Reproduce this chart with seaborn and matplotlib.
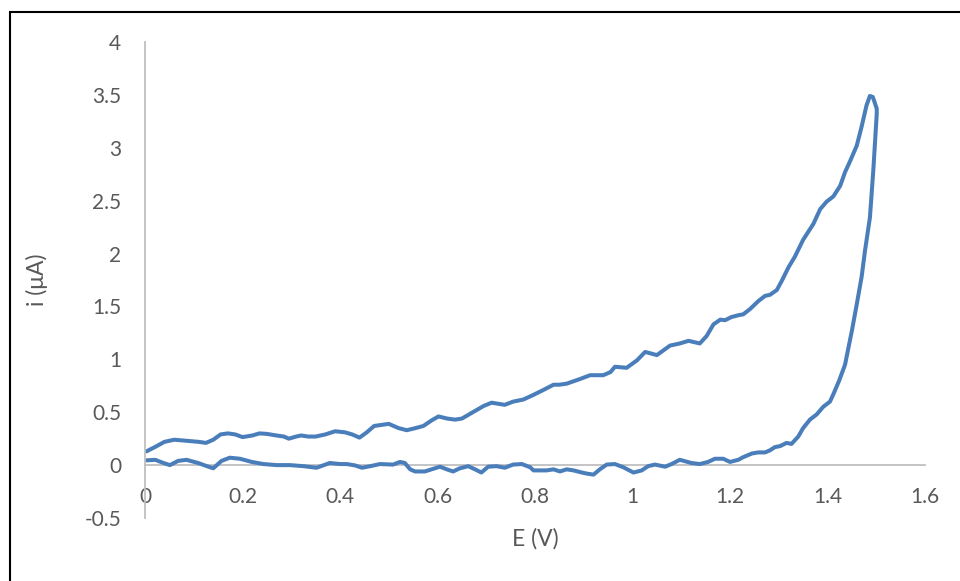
import numpy as np
import pandas as pd
import matplotlib
matplotlib.use("Agg")
import matplotlib.pyplot as plt
import seaborn as sns
from matplotlib.patches import Rectangle

# Anodic (forward) sweep: potential in V, current in µA
E_fwd = [0.003, 0.02, 0.04, 0.06, 0.085, 0.11, 0.125, 0.14, 0.155, 0.17, 0.185, 0.20,
         0.22, 0.235, 0.25, 0.27, 0.285, 0.295, 0.31, 0.32, 0.335, 0.35, 0.37, 0.39,
         0.41, 0.425, 0.44, 0.455, 0.47, 0.485, 0.50, 0.52, 0.537, 0.555, 0.571, 0.587,
         0.602, 0.62, 0.636, 0.65, 0.665, 0.68, 0.695, 0.711, 0.725, 0.738, 0.755, 0.776,
         0.795, 0.817, 0.838, 0.85, 0.865, 0.89, 0.913, 0.94, 0.955, 0.964, 0.988, 1.009,
         1.026, 1.05, 1.065, 1.077, 1.097, 1.115, 1.138, 1.152, 1.166, 1.18, 1.19, 1.203,
         1.22, 1.227, 1.241, 1.258, 1.272, 1.282, 1.296, 1.306, 1.32, 1.333, 1.35, 1.371,
         1.385, 1.398, 1.412, 1.426, 1.436, 1.446, 1.46, 1.47, 1.48, 1.487, 1.493, 1.501]
i_fwd = [0.13, 0.17, 0.22, 0.24, 0.23, 0.22, 0.21, 0.24, 0.29, 0.30, 0.29, 0.265,
         0.28, 0.30, 0.295, 0.28, 0.27, 0.25, 0.27, 0.28, 0.27, 0.27, 0.29, 0.32,
         0.31, 0.29, 0.26, 0.31, 0.37, 0.38, 0.39, 0.35, 0.33, 0.35, 0.37, 0.42,
         0.46, 0.44, 0.43, 0.44, 0.48, 0.52, 0.56, 0.59, 0.58, 0.57, 0.60, 0.62,
         0.66, 0.71, 0.76, 0.76, 0.77, 0.81, 0.85, 0.85, 0.88, 0.93, 0.92, 0.99,
         1.07, 1.04, 1.09, 1.13, 1.15, 1.175, 1.15, 1.22, 1.33, 1.375, 1.37, 1.40,
         1.42, 1.425, 1.475, 1.55, 1.60, 1.61, 1.655, 1.74, 1.87, 1.97, 2.13, 2.28,
         2.42, 2.49, 2.54, 2.64, 2.77, 2.87, 3.02, 3.20, 3.40, 3.49, 3.48, 3.37]

# Cathodic (reverse) sweep
E_rev = [1.501, 1.494, 1.487, 1.477, 1.47, 1.46, 1.45, 1.436, 1.424, 1.412, 1.405, 1.391,
         1.378, 1.364, 1.35, 1.34, 1.326, 1.316, 1.303, 1.292, 1.282, 1.272, 1.258, 1.245,
         1.227, 1.217, 1.20, 1.186, 1.169, 1.155, 1.138, 1.121, 1.097, 1.08, 1.067, 1.046,
         1.032, 1.019, 1.002, 0.981, 0.964, 0.947, 0.933, 0.92, 0.906, 0.896, 0.879, 0.865,
         0.851, 0.838, 0.824, 0.797, 0.79, 0.773, 0.755, 0.738, 0.721, 0.704, 0.69, 0.677,
         0.663, 0.646, 0.632, 0.619, 0.605, 0.591, 0.574, 0.554, 0.544, 0.533, 0.523, 0.509,
         0.482, 0.462, 0.445, 0.431, 0.414, 0.40, 0.379, 0.352, 0.325, 0.297, 0.27, 0.243,
         0.219, 0.195, 0.174, 0.157, 0.14, 0.127, 0.109, 0.085, 0.068, 0.051, 0.038, 0.021,
         0.003]
i_rev = [3.32, 2.79, 2.34, 2.03, 1.78, 1.52, 1.27, 0.95, 0.80, 0.67, 0.60, 0.55,
         0.48, 0.43, 0.35, 0.27, 0.20, 0.21, 0.18, 0.17, 0.14, 0.12, 0.12, 0.11,
         0.075, 0.05, 0.03, 0.06, 0.06, 0.03, 0.01, 0.02, 0.05, 0.01, -0.015, 0.005,
         -0.01, -0.05, -0.07, -0.02, 0.01, 0.005, -0.04, -0.09, -0.08, -0.07, -0.05, -0.04,
         -0.06, -0.04, -0.05, -0.05, -0.02, 0.01, 0.005, -0.025, -0.01, -0.015, -0.07, -0.04,
         -0.01, -0.03, -0.06, -0.04, -0.015, -0.035, -0.06, -0.06, -0.04, 0.02, 0.03, 0.005,
         0.01, -0.01, -0.025, -0.003, 0.01, 0.01, 0.02, -0.025, -0.01, 0.0, 0.0, 0.01,
         0.03, 0.06, 0.07, 0.04, -0.03, -0.01, 0.02, 0.05, 0.04, 0.0, 0.02, 0.05,
         0.045]

x_ticks = [0, 0.2, 0.4, 0.6, 0.8, 1, 1.2, 1.4, 1.6]
x_tick_labels = ["0", "0.2", "0.4", "0.6", "0.8", "1", "1.2", "1.4", "1.6"]
y_ticks = [-0.5, 0, 0.5, 1, 1.5, 2, 2.5, 3, 3.5, 4]
y_tick_labels = ["-0.5", "0", "0.5", "1", "1.5", "2", "2.5", "3", "3.5", "4"]

cv = pd.DataFrame({"E": E_fwd + E_rev, "i": i_fwd + i_rev})

sns.set_theme(style="white")
plt.rcParams["font.family"] = ["Lato", "DejaVu Sans"]

W, H = 960, 581
fig = plt.figure(figsize=(W / 100, H / 100), dpi=100)
ax = fig.add_axes([145 / W, 1 - 518 / H, (925 - 145) / W, (518 - 42) / H])

sns.lineplot(data=cv, x="E", y="i", sort=False, estimator=None, ax=ax,
             color="#4a7ebb", linewidth=2.9, solid_joinstyle="round",
             solid_capstyle="round")

ax.set_xlim(0, 1.6)
ax.set_ylim(-0.5, 4)

ax.set_xticks(x_ticks)
ax.set_xticklabels(x_tick_labels)
ax.set_yticks(y_ticks)
ax.set_yticklabels(y_tick_labels)

grey = "#595959"
axis_col = "#bfbfbf"
for s in ["top", "right"]:
    ax.spines[s].set_visible(False)
ax.spines["bottom"].set_position(("data", 0))
ax.spines["bottom"].set_color(axis_col)
ax.spines["bottom"].set_linewidth(1.3)
ax.spines["left"].set_color(axis_col)
ax.spines["left"].set_linewidth(1.3)
ax.spines["bottom"].set_zorder(0)
ax.tick_params(axis="x", length=0, pad=16, labelsize=15, labelcolor=grey)
ax.tick_params(axis="y", length=0, pad=17, labelsize=15, labelcolor=grey)

ax.set_xlabel("")
ax.set_ylabel("")
fig.text(535 / W, 1 - 539 / H, "E (V)", ha="center", va="center",
         fontsize=16.5, color=grey)
fig.text(37 / W, 1 - 280 / H, "i (μA)", ha="center", va="center",
         rotation=90, fontsize=16.5, color=grey)

# outer frame
fig.patches.append(Rectangle((10 / W, -0.1), 1.2, 1 - 12.5 / H + 0.1,
                             transform=fig.transFigure, fill=False,
                             edgecolor="black", linewidth=1.5))

fig.savefig("out.png", dpi=100)
